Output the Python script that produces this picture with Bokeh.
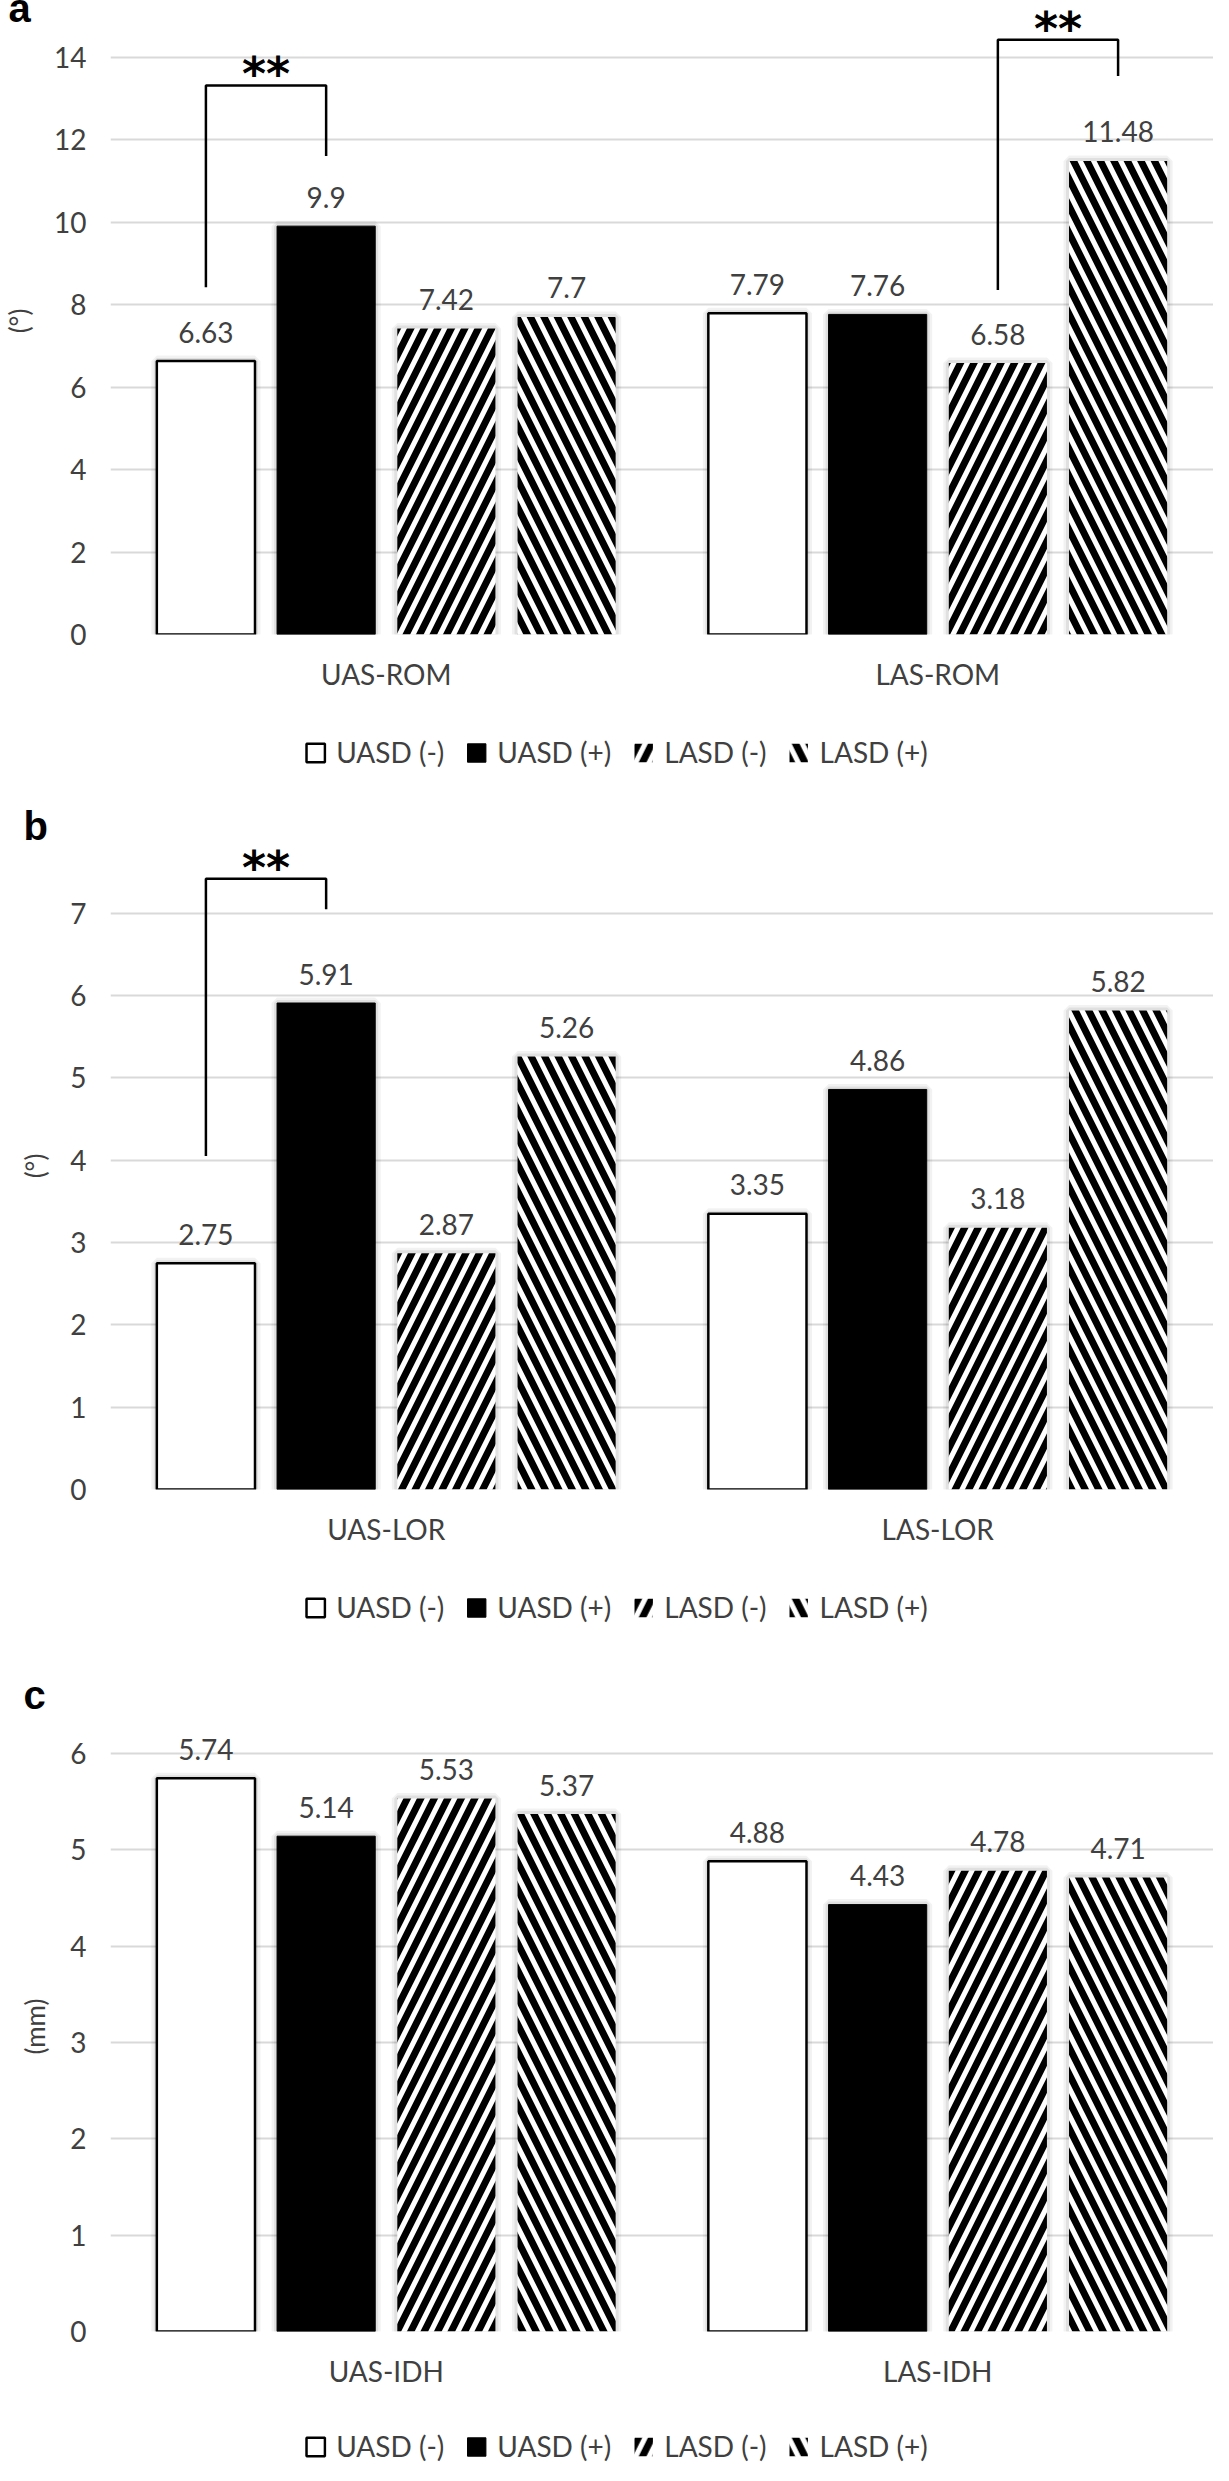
from bokeh.plotting import figure
from bokeh.models import ColumnDataSource, FactorRange, Range1d, FixedTicker, Legend, LegendItem
from bokeh.transform import dodge
from bokeh.layouts import column
from bokeh.embed import file_html
from bokeh.resources import INLINE
from bokeh.core.properties import value

# ---------------- data ----------------
series = ["UASD (-)", "UASD (+)", "LASD (-)", "LASD (+)"]

cats_a = ["UAS-ROM", "LAS-ROM"]
uasd_neg_a = [6.63, 7.79]
uasd_pos_a = [9.9, 7.76]
lasd_neg_a = [7.42, 6.58]
lasd_pos_a = [7.7, 11.48]
ticks_a = [0, 2, 4, 6, 8, 10, 12, 14]
unit_a = "(°)"

cats_b = ["UAS-LOR", "LAS-LOR"]
uasd_neg_b = [2.75, 3.35]
uasd_pos_b = [5.91, 4.86]
lasd_neg_b = [2.87, 3.18]
lasd_pos_b = [5.26, 5.82]
ticks_b = [0, 1, 2, 3, 4, 5, 6, 7]
unit_b = "(°)"

cats_c = ["UAS-IDH", "LAS-IDH"]
uasd_neg_c = [5.74, 4.88]
uasd_pos_c = [5.14, 4.43]
lasd_neg_c = [5.53, 4.78]
lasd_pos_c = [5.37, 4.71]
ticks_c = [0, 1, 2, 3, 4, 5, 6]
unit_c = "(mm)"

# significance brackets: (category, bar i, bar j, mark, left leg end, right leg end, top)
sig_a = [("UAS-ROM", 0, 1, "**", 8.42, 11.6, 13.31),
         ("LAS-ROM", 2, 3, "**", 8.35, 13.54, 14.42)]
sig_b = [("UAS-LOR", 0, 1, "**", 4.05, 7.05, 7.42)]
sig_c = []

# ---------------- styles ----------------
OFFSETS = [-0.327, -0.109, 0.109, 0.327]
BAR_W = 0.178
FONT = "Lato"
TXT = "#404040"
WIDTH = 1213
LEGEND_WIDTH = 1121
STYLES = [
    dict(fill_color="white", line_color="black", line_width=2.5),
    dict(fill_color="black", line_color="black", line_width=1),
    dict(fill_color="white", line_color=None, hatch_pattern="/", hatch_color="black",
         hatch_weight=7, hatch_scale=27),
    dict(fill_color="white", line_color=None, hatch_pattern="\\", hatch_color="black",
         hatch_weight=7, hatch_scale=27),
]


def fmt(v):
    return f"{v:g}"


def make_panel(letter, cats, vals, ticks, unit, sig, height, b_top, b_bottom, b_left,
               y_end, title_standoff):
    p = figure(x_range=FactorRange(*cats), y_range=Range1d(0, y_end),
               width=WIDTH, height=height, output_backend="svg", toolbar_location=None,
               min_border_left=b_left, min_border_right=0, min_border_top=b_top,
               min_border_bottom=b_bottom)
    p.outline_line_color = None
    p.xgrid.grid_line_color = None
    p.ygrid.grid_line_color = "#d9d9d9"
    p.ygrid.grid_line_width = 2
    p.yaxis.ticker = FixedTicker(ticks=ticks)

    # panel letter as the title
    p.title.text = letter
    p.title.text_font = "Liberation Sans"
    p.title.text_font_style = "bold"
    p.title.text_font_size = "40px"
    p.title.text_color = "black"
    p.title.align = "left"
    p.title.vertical_align = "middle"
    p.title.offset = -(b_left + 5)
    p.title.standoff = title_standoff

    for ax in (p.xaxis[0], p.yaxis[0]):
        ax.axis_line_color = None
        ax.major_tick_line_color = None
        ax.minor_tick_line_color = None
        ax.major_tick_out = 0
        ax.major_tick_in = 0
        ax.major_label_text_font = FONT
        ax.major_label_text_color = TXT
    p.yaxis.major_label_text_font_size = "28px"
    p.yaxis.major_label_standoff = 24
    p.xaxis.major_label_text_font_size = "28px"
    p.xaxis.major_label_standoff = 22
    p.yaxis.axis_label = unit
    p.yaxis.axis_label_text_font = FONT
    p.yaxis.axis_label_text_font_style = "normal"
    p.yaxis.axis_label_text_font_size = "26px"
    p.yaxis.axis_label_text_color = TXT
    p.yaxis.axis_label_standoff = 16

    data = dict(cat=cats)
    for i, v in enumerate(vals):
        data[f"s{i}"] = v
        data[f"t{i}"] = [fmt(x) for x in v]
    src = ColumnDataSource(data)

    for i in range(4):
        xs = dodge("cat", OFFSETS[i], range=p.x_range)
        # soft shadow around each bar
        p.vbar(x=xs, top=f"s{i}", width=BAR_W, source=src, fill_color=None,
               line_color="black", line_alpha=0.05, line_width=11)
        p.vbar(x=xs, top=f"s{i}", width=BAR_W, source=src, fill_color=None,
               line_color="black", line_alpha=0.07, line_width=6)
        p.vbar(x=xs, top=f"s{i}", width=BAR_W, source=src, **STYLES[i])
        p.text(x=xs, y=f"s{i}", text=f"t{i}", source=src, text_align="center",
               text_baseline="alphabetic", y_offset=-29, text_font=value(FONT),
               text_font_size="28px", text_color=TXT)

    for (cat, i, j, mark, lo_l, lo_r, top) in sig:
        xi = cats.index(cat) + 0.5 + OFFSETS[i]
        xj = cats.index(cat) + 0.5 + OFFSETS[j]
        p.line(x=[xi, xi, xj, xj], y=[lo_l, top, top, lo_r], line_color="black",
               line_width=2.5)
        p.text(x=[(xi + xj) / 2], y=[top], text=[mark], text_align="center",
               text_baseline="alphabetic", y_offset=-11, text_font=value("DejaVu Sans"),
               text_font_style="bold", text_font_size="46px", text_color="black")
    return p


def make_legend(height, margin):
    p = figure(width=LEGEND_WIDTH, height=height, x_range=(0, 1), y_range=(0, 1),
               x_axis_type=None, y_axis_type=None, output_backend="svg",
               toolbar_location=None, min_border=0)
    p.outline_line_color = None
    p.grid.visible = False
    items = []
    for i in range(4):
        # hidden renderer: it only feeds the legend swatch
        r = p.vbar(x=[0.5], top=[0.5], width=0.1, visible=False, **STYLES[i])
        items.append(LegendItem(label=series[i], renderers=[r]))
    legend = Legend(items=items, orientation="horizontal", location="top_center",
                    glyph_width=23, glyph_height=23, label_text_font=FONT,
                    label_text_font_size="28px", label_text_color=TXT,
                    spacing=20, label_standoff=10, padding=0, margin=margin,
                    border_line_color=None, background_fill_alpha=0,
                    inactive_fill_alpha=0)
    p.add_layout(legend)
    return p


fa = make_panel("a", cats_a, [uasd_neg_a, uasd_pos_a, lasd_neg_a, lasd_pos_a], ticks_a,
                unit_a, sig_a, height=699, b_top=7, b_bottom=65, b_left=97,
                y_end=15.2, title_standoff=-46)
la = make_legend(93, 36)
fb = make_panel("b", cats_b, [uasd_neg_b, uasd_pos_b, lasd_neg_b, lasd_pos_b], ticks_b,
                unit_b, sig_b, height=762, b_top=50, b_bottom=65, b_left=82,
                y_end=7.86, title_standoff=-13)
lb = make_legend(98, 36)
fc = make_panel("c", cats_c, [uasd_neg_c, uasd_pos_c, lasd_neg_c, lasd_pos_c], ticks_c,
                unit_c, sig_c, height=744, b_top=69, b_bottom=65, b_left=82,
                y_end=6.33, title_standoff=7)
lc = make_legend(68, 33)

layout = column(fa, la, fb, lb, fc, lc, spacing=0)
open("out.html", "w").write(file_html(layout, INLINE))
